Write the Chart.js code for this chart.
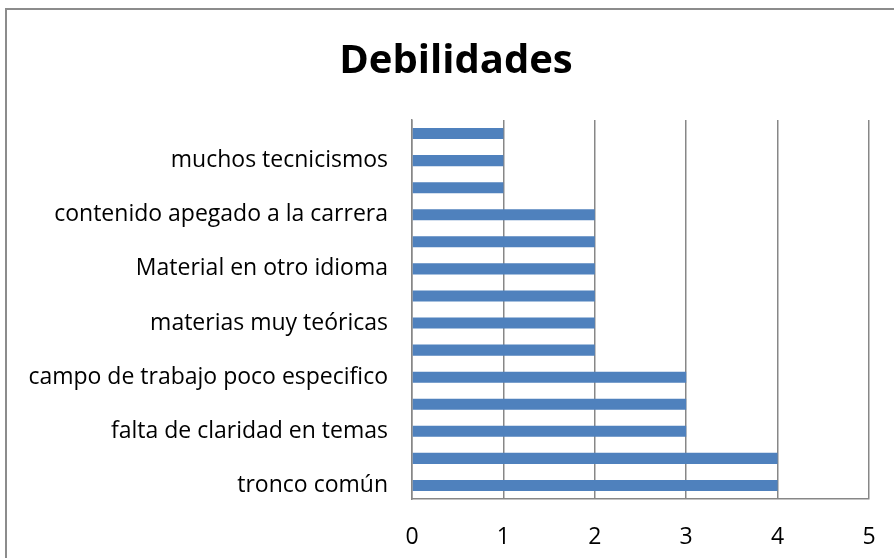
<!DOCTYPE html>
<html>
<head>
<meta charset="utf-8">
<script src="https://cdn.jsdelivr.net/npm/chart.js@4"></script>
<style>
  body { margin: 0; background: #fff; }
  #wrap { position: relative; width: 894px; height: 558px; overflow: hidden; }
  #frame {
    position: absolute; left: 5px; top: 8px; width: 1000px; height: 1000px;
    border-left: 2px solid #8c8c8c; border-top: 2px solid #8c8c8c;
    pointer-events: none;
  }
</style>
</head>
<body>
<div id="wrap">
  <canvas id="debChart" width="894" height="558"></canvas>
  <div id="frame"></div>
</div>
<script>
// categories top to bottom; unlabeled rows are skipped in the axis
const categories = [
    '', 'muchos tecnicismos', '', 'contenido apegado a la carrera',
    '', 'Material en otro idioma', '', 'materias muy teóricas',
    '', 'campo de trabajo poco especifico', '', 'falta de claridad en temas',
    '', 'tronco común'
];
const values = [1, 1, 1, 2, 2, 2, 2, 2, 2, 3, 3, 3, 4, 4];
const xTicks = [0, 1, 2, 3, 4, 5];

const gridGray = '#878787';
const fontFamily = '"Open Sans", "Liberation Sans", sans-serif';

document.addEventListener("DOMContentLoaded", () => {
    const ctx = document.getElementById('debChart').getContext('2d');
    new Chart(ctx, {
        type: 'bar',
        data: {
            labels: categories,
            datasets: [{
                label: 'Debilidades',
                data: values,
                backgroundColor: '#4F81BD',
                barPercentage: 0.41,
                categoryPercentage: 1
            }]
        },
        options: {
            indexAxis: 'y',
            responsive: false,
            animation: false,
            layout: { padding: { left: 18, right: 0, top: 0, bottom: 9 } },
            plugins: {
                legend: { display: false },
                tooltip: { enabled: false },
                title: {
                    display: true,
                    text: 'Debilidades',
                    color: '#000',
                    font: { family: fontFamily, size: 40, weight: 'bold', lineHeight: 1.2 },
                    padding: { top: 38, bottom: 34 }
                }
            },
            scales: {
                x: {
                    min: 0,
                    max: 5,
                    afterBuildTicks: axis => { axis.ticks = xTicks.map(v => ({ value: v })); },
                    afterFit: axis => {
                        // keep the bottom axis fixed and leave room on the right
                        axis.height = 50;
                        axis.paddingLeft = 0;
                        axis.paddingRight = 25;
                    },
                    grid: { color: gridGray, lineWidth: 1.5, drawTicks: false },
                    border: { color: gridGray, width: 1.5 },
                    ticks: {
                        color: '#000',
                        padding: 25,
                        font: { family: fontFamily, size: 23, lineHeight: 1.2 }
                    }
                },
                y: {
                    afterFit: axis => {
                        axis.width = 394;
                        axis.paddingTop = 0;
                        axis.paddingBottom = 0;
                    },
                    grid: { display: false, drawTicks: false },
                    border: { color: gridGray, width: 1.5 },
                    ticks: {
                        autoSkip: false,
                        color: '#000',
                        padding: 24,
                        font: { family: fontFamily, size: 23, lineHeight: 1.2 }
                    }
                }
            }
        }
    });
});
</script>
</body>
</html>
